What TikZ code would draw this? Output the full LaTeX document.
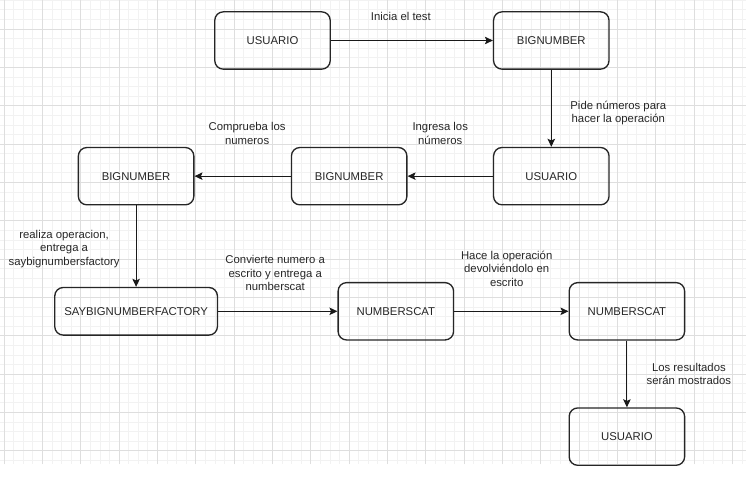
\documentclass[tikz,border=0pt]{standalone}
\usepackage{fontspec}
\setmainfont{Liberation Sans}
\usetikzlibrary{positioning,arrows.meta}

\tikzset{
  box/.style={draw=black!85,rounded corners=6.4pt,line width=1pt,
    minimum width=86.6pt,minimum height=43pt,inner sep=0pt,
    text=black!85,font=\fontsize{8.5}{10.2}\selectfont},
  widebox/.style={box,minimum width=122pt,minimum height=35.7pt},
  msg/.style={align=center,inner sep=0pt,text=black!85,
    font=\fontsize{8.5}{10.2}\selectfont},
  flow/.style={-{Stealth[length=6pt,width=5.6pt,inset=1.2pt]},line width=0.8pt,draw=black!90},
  gridmajor/.style={draw=black!13,line width=0.6pt},
  gridminor/.style={draw=black!5,line width=0.5pt}
}

\begin{document}
\begin{tikzpicture}[x=0.75pt,y=0.75pt]
  \useasboundingbox (0,0) rectangle (746,482);
  % background grid
  \begin{scope}
    \clip (0,18) rectangle (746,482);
    \foreach \k in {-1,...,77} \draw[gridminor] ({4+9.5833*\k},18) -- ++(0,464);
    \foreach \k in {-1,...,47} \draw[gridminor] (0,{31.33+9.5833*\k}) -- ++(746,0);
    \foreach \k in {0,...,19} \draw[gridmajor] ({4+38.333*\k},18) -- ++(0,464);
    \foreach \k in {0,...,11} \draw[gridmajor] (0,{31.33+38.333*\k}) -- ++(746,0);
  \end{scope}

  \node [box] (user1) at (272.5,441.5) {USUARIO};
  \node [box,right=121.5pt of user1] (big1) {BIGNUMBER};
  \node [box,below=57.75pt of big1] (user2) {USUARIO};
  \node [box,left=64pt of user2] (big2) {BIGNUMBER};
  \node [box,left=72.2pt of big2] (big3) {BIGNUMBER};
  \node [widebox,below=61pt of big3] (factory) {SAYBIGNUMBERFACTORY};
  \node [box,right=89.5pt of factory] (cat1) {NUMBERSCAT};
  \node [box,right=85.7pt of cat1] (cat2) {NUMBERSCAT};
  \node [box,below=50pt of cat2] (user3) {USUARIO};

  \draw [flow] (user1) -- node[msg,xshift=-8.25pt,yshift=18pt]{Inicia el test} (big1);
  \draw [flow] (big1) -- node[msg,xshift=50.25pt,yshift=-3.4pt]{Pide números para\\hacer la operación} (user2);
  \draw [flow] (user2) -- node[msg,xshift=-7.5pt,yshift=32.25pt]{Ingresa los\\números} (big2);
  \draw [flow] (big2) -- node[msg,xshift=3.4pt,yshift=32.25pt]{Comprueba los\\numeros} (big3);
  \draw [flow] (big3) -- node[msg,xshift=-54pt,yshift=-2pt]{realiza operacion,\\entrega a\\saybignumbersfactory} (factory);
  \draw [flow] (factory) -- node[msg,xshift=-1.9pt,yshift=28.5pt]{Convierte numero a\\escrito y entrega a\\numberscat} (cat1);
  \draw [flow] (cat1) -- node[msg,xshift=-3.5pt,yshift=32pt]{Hace la operación\\devolviéndolo en\\escrito} (cat2);
  \draw [flow] (cat2) -- node[msg,xshift=46.5pt]{Los resultados\\serán mostrados} (user3);
\end{tikzpicture}
\end{document}
